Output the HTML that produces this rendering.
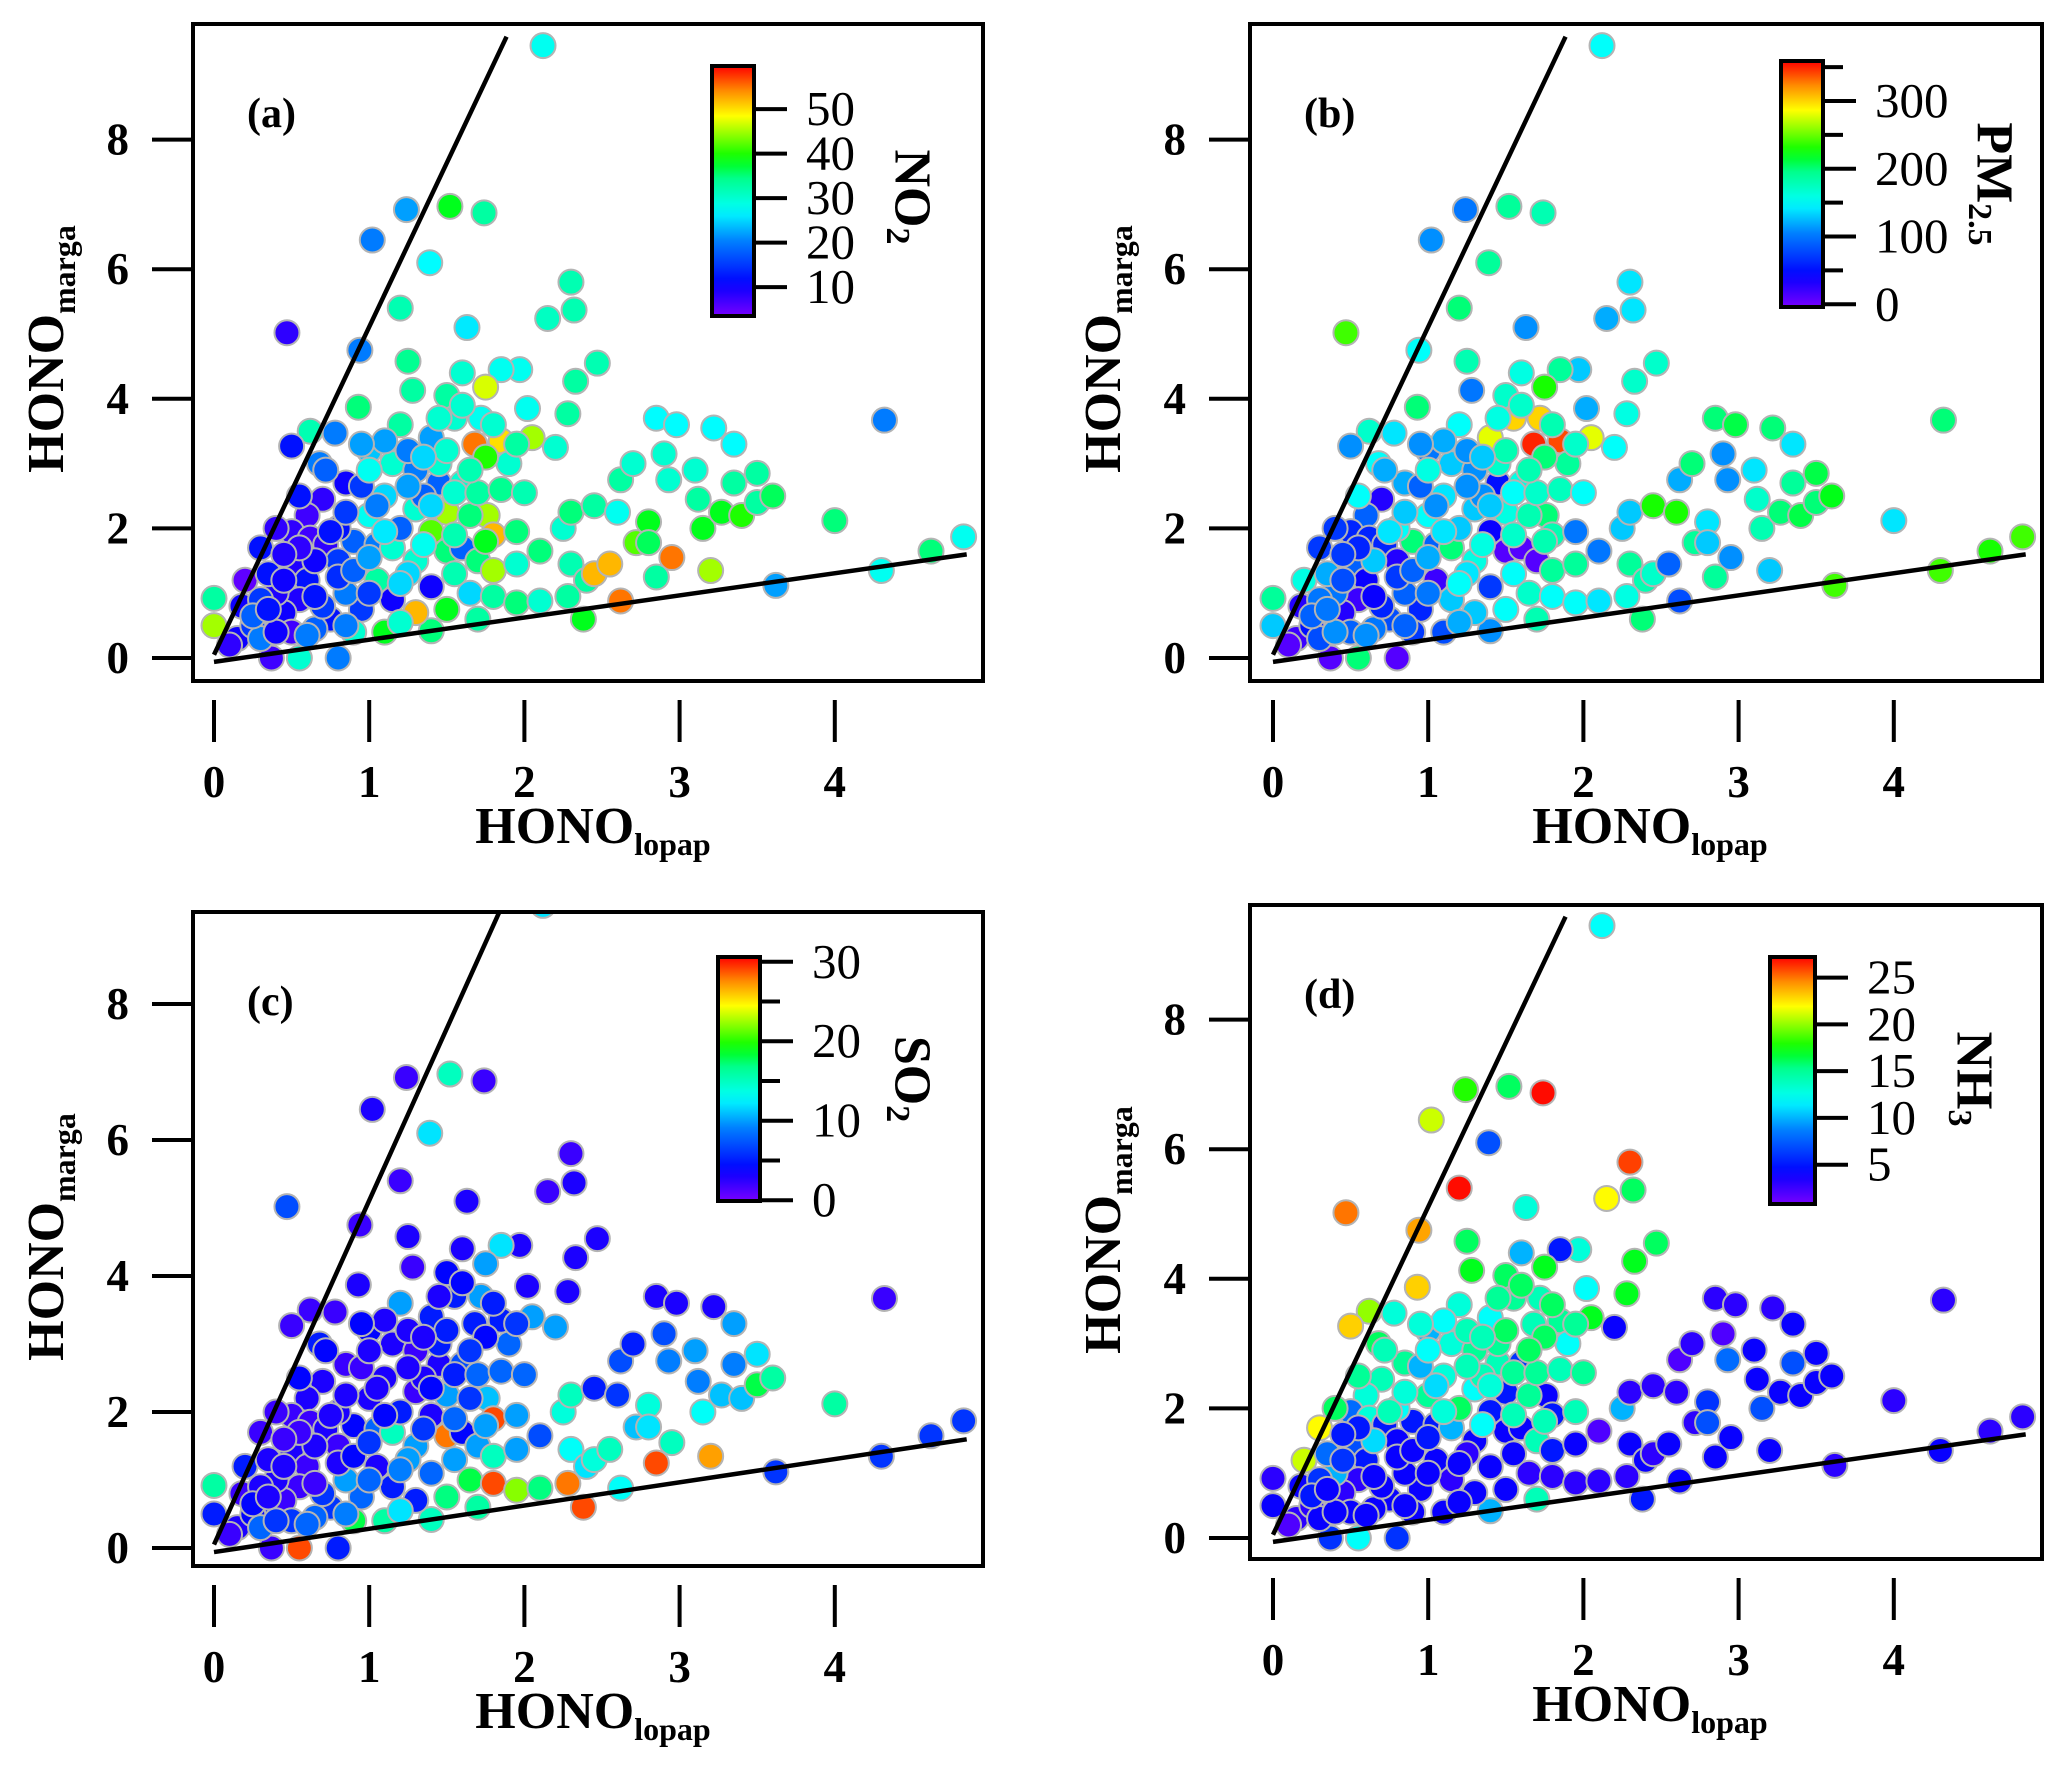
<!DOCTYPE html>
<html><head><meta charset="utf-8"><style>
html,body{margin:0;padding:0;background:#fff;overflow:hidden;}
svg{display:block;font-family:"Liberation Serif",serif;}
</style></head><body>
<svg id="fig" width="2068" height="1777" viewBox="0 0 2068 1777" xmlns="http://www.w3.org/2000/svg"></svg>
<script>
// ---- data (HONO_lopap, HONO_marga and colour variables) ----
const hx = [2.12,1.02,1.24,1.52,1.74,1.39,0.47,1.2,1.63,0.94,2.15,2.3,2.32,2.47,2.33,2.28,2.02,1.97,1.25,1.28,0.93,1.85,1.75,1.6,1.5,1.55,1.72,1.4,1.68,1.85,2.05,2.2,1.9,1.75,1.2,0.78,0.62,0.5,0.68,0.85,1.0,1.15,1.3,1.45,1.6,0.95,1.1,1.3,1.5,1.76,1.8,1.4,1.95,0.7,0.6,0.5,0.4,0.62,0.72,0.3,0.5,0.6,0.8,0.9,1.05,1.15,1.3,1.5,1.6,1.7,1.8,1.95,1.05,1.25,1.4,1.15,0.95,0.75,0.55,0.45,0.35,0.5,0.2,0.18,0.0,0.0,0.15,0.37,0.55,0.8,0.9,1.1,1.4,1.3,1.5,1.7,1.65,1.8,1.95,2.1,2.1,2.25,2.3,2.3,2.4,2.28,2.38,2.45,2.55,2.62,2.45,2.6,2.62,2.7,2.72,2.8,2.8,2.85,2.9,2.93,2.98,2.95,2.85,3.1,3.12,3.15,3.2,3.22,3.35,3.27,3.35,3.4,3.5,3.5,3.6,3.62,4.0,4.3,4.32,4.62,4.83,0.25,0.3,0.4,0.65,0.7,0.85,1.0,0.1,0.4,0.35,0.65,0.8,1.0,1.2,1.35,1.45,1.25,1.0,
 0.55,0.45,0.65,0.3,0.25,0.8,0.9,1.0,1.2,1.1,1.35,1.55,1.65,1.4,1.25,1.55,1.7,1.85,1.65,1.5,1.35,1.05,0.85,0.75,0.55,0.45,0.35,0.6,0.85,1.2,1.55,1.75,2.0,1.95,1.8,1.6,1.45,1.1,0.95,0.72];
const hy = [9.45,6.45,6.92,6.97,6.87,6.1,5.02,5.4,5.1,4.75,5.24,5.8,5.37,4.55,4.27,3.77,3.85,4.45,4.58,4.13,3.87,4.45,4.18,4.4,4.05,3.7,3.7,3.4,3.3,3.35,3.4,3.25,3.0,3.1,3.6,3.47,3.5,3.27,3.0,2.7,3.2,3.0,2.9,2.7,2.7,2.65,2.5,2.3,2.25,2.2,1.9,1.95,1.95,2.45,2.2,1.95,2.0,1.85,1.75,1.7,1.45,1.2,1.5,1.8,1.75,1.7,1.5,1.65,1.7,1.5,1.35,1.45,1.2,1.3,1.1,0.9,0.75,0.6,0.9,0.7,0.45,0.4,1.2,0.8,0.92,0.5,0.3,0.0,0.0,0.0,0.4,0.4,0.42,0.7,0.75,0.6,1.0,0.95,0.85,0.88,1.65,2.0,2.25,1.45,1.2,0.95,0.6,1.3,1.45,0.88,2.35,2.25,2.75,3.0,1.78,2.1,1.78,3.7,3.15,2.75,3.6,1.55,1.25,2.9,2.45,2.0,1.35,3.55,3.3,2.25,2.7,2.2,2.85,2.4,2.5,1.12,2.12,1.35,3.67,1.65,1.87,0.5,0.3,0.4,0.45,0.8,1.0,1.0,0.2,1.0,1.3,1.5,2.0,2.2,2.0,2.5,3.0,3.2,2.9,
 1.7,1.2,0.95,0.9,0.65,1.25,1.35,1.55,1.15,1.95,1.75,1.9,2.2,2.35,2.65,2.55,2.55,2.6,2.9,3.2,3.1,2.35,2.25,1.95,2.5,1.6,0.75,0.35,0.5,0.55,1.3,1.8,2.55,3.3,3.6,3.9,3.7,3.35,3.3,2.9];
const no2 = [28,20,22,38,33,27,8,32,26,20,31,32,32,32,33,33,28,28,34,33,35,28,47,30,33,30,28,22,55,50,45,30,30,40,33,20,32,12,20,10,24,30,20,18,30,15,25,30,45,45,52,42,35,8,7,8,8,7,8,12,9,12,15,18,20,30,30,35,18,35,45,30,33,25,10,10,15,12,9,10,18,7,5,10,33,45,10,7,30,20,30,38,35,52,38,33,25,33,35,30,35,30,35,32,33,33,38,52,52,55,33,28,33,30,42,38,36,27,30,30,27,55,33,30,33,38,45,27,27,38,33,40,33,33,36,22,35,28,20,35,28,15,20,10,18,15,20,15,8,9,12,10,12,28,18,18,30,20,28,
 8,10,12,15,18,14,18,22,25,26,28,32,35,25,22,30,33,34,32,30,25,20,15,12,12,9,12,20,20,30,32,38,32,33,30,30,30,22,22,18];
const pm25 = [150,110,100,190,180,190,240,200,110,150,120,140,140,170,170,160,120,130,180,100,200,190,230,160,170,300,300,280,350,340,280,150,190,200,150,140,170,110,150,120,100,130,110,50,160,90,140,130,160,200,180,40,100,30,90,60,70,60,60,70,90,40,30,200,90,200,160,10,10,10,190,190,20,140,70,130,60,80,20,30,90,90,160,30,190,130,20,10,200,10,70,80,110,130,150,180,170,150,150,140,100,130,130,190,180,160,200,170,90,80,230,230,120,200,190,140,130,200,110,110,210,110,190,140,170,180,130,200,140,200,190,210,210,200,220,240,140,240,200,230,240,50,80,110,100,60,90,100,10,100,120,130,150,150,130,110,170,110,160,
 60,80,40,100,90,70,90,120,150,140,160,170,180,130,110,150,170,175,180,180,130,110,130,140,150,70,100,110,90,120,150,180,150,170,180,170,160,120,110,120];
const so2 = [12,3,2,15,2,12,7,2,3,2,2,2,3,3,3,3,3,3,3,2,3,12,10,3,4,5,10,5,5,5,10,10,8,4,10,2,2,2,5,2,4,3,2,3,7,2,3,2,10,11,29,3,10,3,3,2,2,2,3,2,3,2,2,4,8,15,10,28,4,10,15,10,3,10,8,5,8,6,2,2,5,6,5,2,16,5,3,2,29,5,18,16,15,5,17,16,18,29,22,17,7,14,15,13,12,28,29,14,15,13,5,6,7,5,11,14,12,3,7,9,3,15,29,10,9,13,27,3,10,11,9,11,12,18,16,6,16,6,2,6,6,4,8,6,8,6,10,8,2,3,3,3,3,3,5,3,5,3,3,
 2,3,2,3,4,3,4,6,9,4,6,8,6,4,3,5,8,8,6,5,3,3,3,3,4,2,3,8,9,12,10,10,8,6,5,4,3,3,4,4];
const nh3 = [12,21,18,16,27,7,25,27,13,24,22,26,16,16,17,17,12,13,16,17,23,5,17,10,16,15,14,12,14,15,17,4,12,16,13,13,20,23,16,15,10,13,15,14,6,10,13,12,5,4,5,5,14,14,13,8,16,13,5,22,7,5,4,5,5,10,4,4,4,14,5,4,4,3,4,3,4,4,3,3,3,4,21,4,3,4,3,6,12,6,4,4,10,4,4,14,3,3,3,3,2,10,3,4,4,3,5,3,4,4,3,3,2,3,3,6,7,3,2,8,3,4,4,4,4,7,4,3,4,4,7,4,4,4,4,3,3,4,3,3,3,3,4,4,4,4,4,4,2,10,8,11,12,15,16,14,15,14,12,
 5,6,4,6,5,4,4,5,4,13,12,14,15,13,14,15,15,14,16,16,14,11,13,14,15,5,4,4,4,4,4,14,15,15,16,16,15,12,13,14];
// reference lines (slope / intercept)
const lineSlopes = [5.06, 0.342];
const lineIntercepts = [0.05, -0.06];
const lineXEnds = [1.885, 4.85];
const xTicks = [0,1,2,3,4];
const yTicks = [0,2,4,6,8];
const no2Ticks = [10,20,30,40,50];
const pmTicks = [0,100,200,300];
const pmMinor = [50,150,250,350];
const so2Ticks = [0,10,20,30];
const so2Minor = [5,15,25];
const nh3Ticks = [5,10,15,20,25];

const NS = "http://www.w3.org/2000/svg";
const svg = document.getElementById('fig');
function mk(tag, attrs, parent){const e=document.createElementNS(NS,tag);for(const k in attrs)e.setAttribute(k,attrs[k]);(parent||svg).appendChild(e);return e;}

const stops=[[0,[120,0,255]],[0.13,[0,0,255]],[0.3,[0,128,255]],[0.42,[0,255,255]],[0.55,[0,255,140]],[0.63,[0,255,0]],[0.8,[255,255,0]],[0.9,[255,140,0]],[1,[255,0,0]]];
function cmap(t){t=Math.max(0,Math.min(1,t));for(let i=1;i<stops.length;i++){if(t<=stops[i][0]){const a=stops[i-1],b=stops[i];const f=(t-a[0])/(b[0]-a[0]);const c=a[1].map((v,j)=>Math.round(v+(b[1][j]-v)*f));return `rgb(${c[0]},${c[1]},${c[2]})`;}}return 'rgb(255,0,0)';}

const panels=[
 {id:'a',vals:no2,box:[193,24,983,681],x0:214,xs:155.2,y0:658,ys:64.8,cb:{x:712,w:42,y1:66,y2:316,vmin:3.5,vmax:59.7,ticks:no2Ticks,minor:[]},lab:'NO',sub:'2',labX:912,labY:197},
 {id:'b',vals:pm25,box:[1250,24,2042,681],x0:1273,xs:155.2,y0:658,ys:64.8,cb:{x:1781,w:42,y1:61,y2:307,vmin:-4,vmax:359,ticks:pmTicks,minor:pmMinor},lab:'PM',sub:'2.5',labX:1994,labY:184},
 {id:'c',vals:so2,box:[193,912,983,1566],x0:214,xs:155.2,y0:1548,ys:68,cb:{x:718,w:42,y1:957,y2:1201,vmin:-0.1,vmax:30.6,ticks:so2Ticks,minor:so2Minor},lab:'SO',sub:'2',labX:912,labY:1079},
 {id:'d',vals:nh3,box:[1250,905,2042,1559],x0:1273,xs:155.2,y0:1538,ys:64.8,cb:{x:1770,w:45,y1:957,y2:1204,vmin:0.8,vmax:27.2,ticks:nh3Ticks,minor:[]},lab:'NH',sub:'3',labX:1974,labY:1079}
];

const defs=mk('defs',{});
const grad=mk('linearGradient',{id:'rb',x1:0,y1:1,x2:0,y2:0},defs);
for(let i=0;i<=20;i++){mk('stop',{offset:i/20,'stop-color':cmap(i/20)},grad);}

panels.forEach(p=>{
 const [L,T,R,B]=p.box;
 const g=mk('g',{});
 
 
 const X=v=>p.x0+v*p.xs, Y=v=>p.y0-v*p.ys;
 const cp=mk('clipPath',{id:'clip'+p.id},defs);
 mk('rect',{x:L,y:T,width:R-L,height:B-T},cp);
 const pts=mk('g',{'clip-path':`url(#clip${p.id})`},g);
 
 
 const cb=p.cb;
 for(let i=0;i<hx.length;i++){
  const c=mk('circle',{cx:X(hx[i]),cy:Y(hy[i]),r:12.5,fill:cmap((p.vals[i]-cb.vmin)/(cb.vmax-cb.vmin)),stroke:'#b4b4b4','stroke-width':2},pts);
  
  
 }
 for(let k=0;k<lineSlopes.length;k++){
  const ln=mk('line',{x1:X(0),y1:Y(lineIntercepts[k]),x2:X(lineXEnds[k]),y2:Y(lineIntercepts[k]+lineSlopes[k]*lineXEnds[k]),stroke:'#000','stroke-width':4.5},pts);
  
  
 }
 const frame=mk('rect',{x:L,y:T,width:R-L,height:B-T,fill:'none',stroke:'#000','stroke-width':4},g);
 
 
 yTicks.forEach(v=>{
  const t=mk('line',{x1:L-41,x2:L,y1:Y(v),y2:Y(v),stroke:'#000','stroke-width':4},g);
  
  
  const tx=mk('text',{x:L-64,y:Y(v)+15,'text-anchor':'end','font-size':45,'font-weight':'bold'},g);
  tx.textContent=v;
  
  
 });
 xTicks.forEach(v=>{
  const t=mk('line',{x1:X(v),x2:X(v),y1:B+19,y2:B+61,stroke:'#000','stroke-width':4},g);
  
  
  const tx=mk('text',{x:X(v),y:B+116,'text-anchor':'middle','font-size':45,'font-weight':'bold'},g);
  tx.textContent=v;
  
  
 });
 const xt=mk('text',{x:L+400,y:B+162,'text-anchor':'middle','font-size':52,'font-weight':'bold'},g);
 xt.innerHTML='HONO<tspan font-size="32" dy="12">lopap</tspan>';
 
 
 const yt=mk('text',{x:0,y:0,'text-anchor':'middle','font-size':52,'font-weight':'bold',transform:`translate(${L-130},${T+325}) rotate(-90)`},g);
 yt.innerHTML='HONO<tspan font-size="32" dy="12">marga</tspan>';
 
 
 const pl=mk('text',{x:L+54,y:T+103,'font-size':42,'font-weight':'bold'},g);
 pl.textContent='('+p.id+')';
 
 
 const cg=mk('g',{},g);
 
 
 const CY=v=>cb.y2-(v-cb.vmin)/(cb.vmax-cb.vmin)*(cb.y2-cb.y1);
 mk('rect',{x:cb.x,y:cb.y1,width:cb.w,height:cb.y2-cb.y1,fill:'url(#rb)',stroke:'#000','stroke-width':4},cg);
 cb.minor.forEach(v=>{const t=mk('line',{x1:cb.x+cb.w,x2:cb.x+cb.w+20,y1:CY(v),y2:CY(v),stroke:'#000','stroke-width':4},cg);
  });
 cb.ticks.forEach(v=>{
  const t=mk('line',{x1:cb.x+cb.w,x2:cb.x+cb.w+33,y1:CY(v),y2:CY(v),stroke:'#000','stroke-width':4},cg);
  
  
  const tx=mk('text',{x:cb.x+cb.w+52,y:CY(v)+16,'font-size':49},cg);
  tx.textContent=v;
  
  
 });
 const cl=mk('text',{x:0,y:0,'text-anchor':'middle','dominant-baseline':'central','font-size':52,'font-weight':'bold',transform:`translate(${p.labX},${p.labY}) rotate(90)`},cg);
 cl.innerHTML=p.lab+'<tspan font-size="34" dy="14">'+p.sub+'</tspan>';
 
 
});
</script>
</body></html>
